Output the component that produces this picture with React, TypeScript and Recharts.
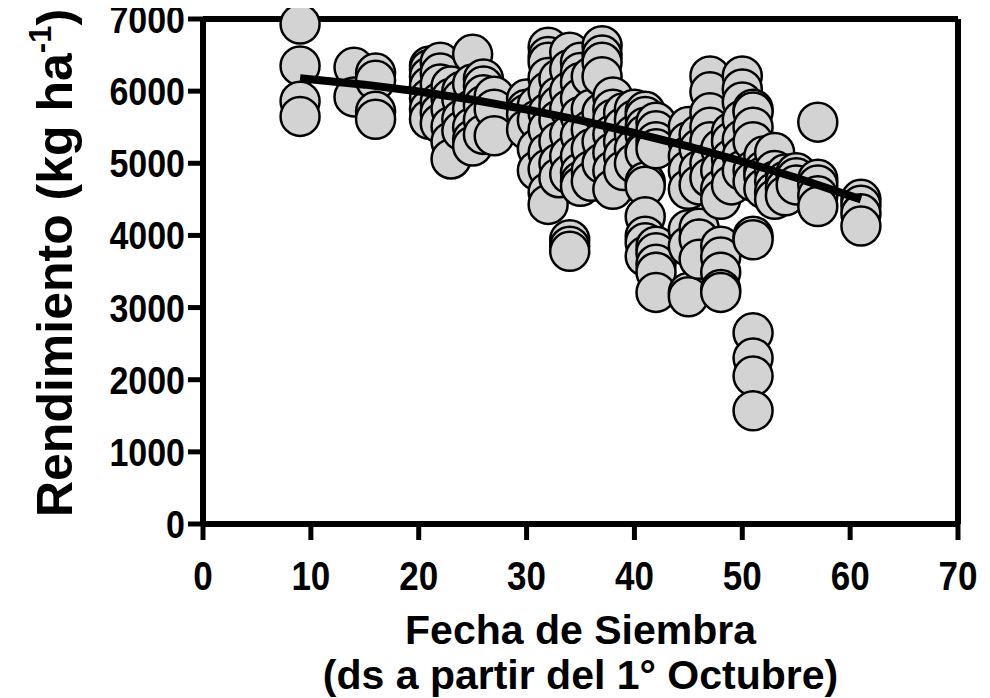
import React from 'react';
import { ScatterChart, Scatter, XAxis, YAxis, ReferenceLine, Label } from 'recharts';

// Observed yields grouped by sowing day (days after 1 October)
const obsDays = [9, 14, 16, 21, 22, 23, 24, 25, 26, 27, 30, 31, 32, 33, 34, 35, 36, 37, 38, 39, 40, 41, 42, 45, 46, 47, 48, 49, 50, 51, 52, 53, 54, 55, 57, 61];
const obsYields = [
  [6930, 6350, 5860, 5650],
  [6330, 5920],
  [6250, 6150, 5720, 5610],
  [6350, 6300, 6200, 6070, 5900, 5750, 5610],
  [6400, 6250, 6100, 5850, 5700, 5550],
  [6070, 5900, 5750, 5510, 5300, 5060],
  [6000, 5890, 5610, 5450],
  [6510, 6100, 5750, 5500, 5330, 5240],
  [6170, 6070, 5950, 5800, 5600, 5400],
  [5930, 5750, 5380],
  [5890, 5750, 5680, 5470],
  [5800, 5600, 5200, 4900],
  [6610, 6480, 6400, 6190, 6000, 5700, 5470, 5150, 4920, 4600, 4430],
  [6170, 5930, 5800, 5600, 5300, 5000, 4800],
  [6540, 6300, 6000, 5750, 5400, 5100, 4850, 3940, 3850, 3780],
  [6400, 6260, 6120, 5900, 5650, 5380, 5100, 4870, 4750, 4680],
  [6200, 5750, 5470, 5200, 4900, 4750],
  [6630, 6500, 6400, 6200, 5700, 5300, 5000],
  [5920, 5750, 5610, 5400, 5150, 4900, 4640],
  [5700, 5500, 5300, 5100, 4900],
  [5750, 5600, 5400, 5200, 5000],
  [5720, 5650, 5500, 5400, 5190, 5150, 4740, 4680, 4260, 3990, 3900, 3710],
  [5570, 5450, 5300, 5200, 3850, 3760, 3600, 3490, 3210],
  [5510, 5300, 5100, 4900, 4640, 4080, 3850, 3210, 3150],
  [5400, 5200, 4900, 4700, 4100, 3950, 3670],
  [6210, 5990, 5700, 5500, 5300, 5000, 4800],
  [5200, 4900, 4640, 4500, 3850, 3700, 3490, 3250, 3210],
  [5430, 5300, 5060, 4900, 4700],
  [6210, 6030, 5850, 5600, 5330, 5100, 4900],
  [5750, 5710, 5500, 5300, 4900, 4750, 3990, 3940, 2650, 2300, 2050, 1570],
  [5100, 4900, 4820, 4650],
  [5150, 4900, 4750, 4600, 4500],
  [4850, 4750, 4650, 4550],
  [4870, 4800, 4700],
  [5570, 4780, 4700, 4550, 4400],
  [4500, 4420, 4300, 4130],
];

// Fitted trend line
const fitDays = [9, 15, 20, 25, 30, 35, 40, 45, 50, 55, 61];
const fitYields = [6180, 6090, 5995, 5880, 5745, 5595, 5420, 5235, 5025, 4800, 4500];

const xTicks = [0, 10, 20, 30, 40, 50, 60, 70];
const yTicks = [0, 1000, 2000, 3000, 4000, 5000, 6000, 7000];

const points = obsDays.flatMap((d, i) => obsYields[i].map((v) => ({ x: d, y: v })));
const fitData = fitDays.map((d, i) => ({ x: d, y: fitYields[i] }));

const FONT = '"Liberation Sans", Arial, Helvetica, sans-serif';

const Dot = (p: any) => (
  <circle cx={p.cx} cy={p.cy} r={19.5} fill="#d3d3d3" stroke="#000" strokeWidth={2.5} />
);

const XTick = (p: any) => (
  <g transform={`translate(${p.x},582) scale(1,1.15)`}>
    <text x={0} y={0} textAnchor="middle" fontFamily={FONT} fontWeight="bold" fontSize={35} fill="#000">
      {p.payload.value}
    </text>
  </g>
);

const YTick = (p: any) => (
  <g transform={`translate(${p.x},${p.y + 14}) scale(1,1.15)`}>
    <text x={0} y={0} textAnchor="end" fontFamily={FONT} fontWeight="bold" fontSize={34} fill="#000">
      {p.payload.value}
    </text>
  </g>
);

const XTitle = (props: any) => {
  const vb = props.viewBox;
  const cx = vb.x + vb.width / 2;
  return (
    <g>
      <text x={cx} y={636} textAnchor="middle" fontFamily={FONT} fontWeight="bold" fontSize={41} fill="#000">
        Fecha de Siembra
      </text>
      <text x={cx} y={681} textAnchor="middle" fontFamily={FONT} fontWeight="bold" fontSize={41} fill="#000">
        (ds a partir del 1° Octubre)
      </text>
    </g>
  );
};

const YTitle = () => {
  const x = 64;
  const y = 255;
  return (
    <text
      x={x}
      y={y}
      transform={`rotate(-90 ${x} ${y})`}
      textAnchor="middle"
      fontFamily={FONT}
      fontWeight="bold"
      fontSize={50}
      fill="#000"
    >
      Rendimiento (kg ha
      <tspan fontSize={31} dy={-21}>-1</tspan>
      <tspan dy={21}>)</tspan>
    </text>
  );
};

export default function App() {
  return (
    <ScatterChart width={980} height={690} margin={{ top: 11, right: 30, bottom: 0, left: 0 }}>
      <XAxis
        type="number"
        dataKey="x"
        domain={[0, 70]}
        ticks={xTicks}
        interval={0}
        height={174}
        axisLine={{ stroke: '#000', strokeWidth: 6 }}
        tickLine={{ stroke: '#000', strokeWidth: 5 }}
        tickSize={16}
        tickMargin={14}
        tick={<XTick />}
      >
        <Label content={<XTitle />} />
      </XAxis>
      <YAxis
        type="number"
        dataKey="y"
        domain={[0, 7000]}
        ticks={yTicks}
        interval={0}
        width={195}
        axisLine={{ stroke: '#000', strokeWidth: 6 }}
        tickLine={{ stroke: '#000', strokeWidth: 5 }}
        tickSize={15}
        tickMargin={3}
        tick={<YTick />}
      >
        <Label content={<YTitle />} />
      </YAxis>
      <ReferenceLine y={7000} stroke="#000" strokeWidth={6} ifOverflow="visible" />
      <ReferenceLine x={70} stroke="#000" strokeWidth={6} ifOverflow="visible" />
      <Scatter data={points} shape={Dot} isAnimationActive={false} />
      <Scatter
        data={fitData}
        line={{ stroke: '#000', strokeWidth: 8 }}
        shape={() => <g />}
        isAnimationActive={false}
      />
    </ScatterChart>
  );
}
